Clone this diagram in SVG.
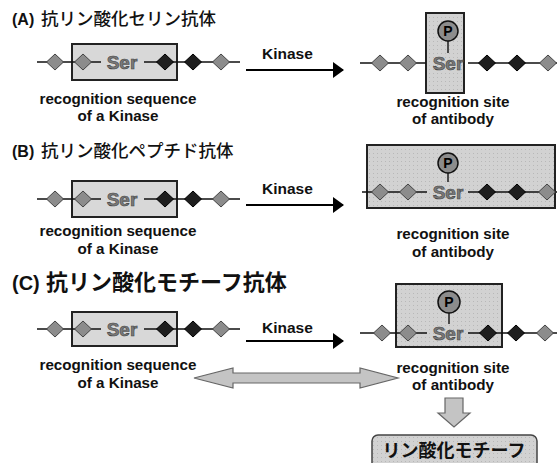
<svg xmlns="http://www.w3.org/2000/svg" xmlns:xlink="http://www.w3.org/1999/xlink" width="557" height="463" viewBox="0 0 557 463">
<style>
.t{font-family:"Liberation Sans",Arial,sans-serif;font-weight:bold;fill:#111}
.jp{font-family:"Noto Sans CJK JP","Noto Sans CJK SC",sans-serif;fill:#111}
.lab{font-family:"Liberation Sans",Arial,sans-serif;font-weight:bold;font-size:15.2px;fill:#111;text-anchor:middle}
.kin{font-family:"Liberation Sans",Arial,sans-serif;font-weight:bold;font-size:15.5px;fill:#111}
.ser{font-family:"Liberation Sans",Arial,sans-serif;font-weight:bold;font-size:19px;fill:#7a7a7a;stroke:#444;stroke-width:0.6;text-anchor:middle}
.pt{font-family:"Liberation Sans",Arial,sans-serif;font-weight:bold;font-size:14px;fill:#000;text-anchor:middle}
.boxL{fill:#d8d8d8;stroke:#222;stroke-width:2}
.boxR{fill:url(#dots);stroke:#222;stroke-width:2}
.ln{stroke:#111;stroke-width:1.4;fill:none}
.pc{fill:#8c8c8c;stroke:#111;stroke-width:1.5}
.ka{stroke:#000;stroke-width:2.2;fill:none}
.fat{fill:#c4c4c4;stroke:#666;stroke-width:1.2}
</style>
<defs>
<pattern id="dots" width="4" height="4" patternUnits="userSpaceOnUse">
<rect width="4" height="4" fill="#d2d2d2"/>
<rect x="1" y="1" width="1" height="1" fill="#b8b8b8"/>
</pattern>
<path id="dg" d="M0,-8 L8.5,0 L0,8 L-8.5,0 Z" fill="#8c8c8c" stroke="#444" stroke-width="1"/>
<path id="dd" d="M0,-8 L8.5,0 L0,8 L-8.5,0 Z" fill="#1e1e1e" stroke="#000" stroke-width="1"/>
<marker id="ah" markerWidth="11" markerHeight="16" refX="10" refY="8" orient="auto" markerUnits="userSpaceOnUse">
<path d="M0,0 L11,8 L0,16 Z" fill="#000"/>
</marker>
</defs>
<rect width="557" height="463" fill="#fff"/>

<!-- Titles -->
<g id="titleA"><text x="12" y="25"><tspan class="t" font-size="16">(A)</tspan><tspan class="jp" x="41" font-size="17.5" font-weight="500">抗リン酸化セリン抗体</tspan></text></g>
<g id="titleB"><text x="12" y="157"><tspan class="t" font-size="16">(B)</tspan><tspan class="jp" x="41" font-size="17.5" font-weight="500">抗リン酸化ペプチド抗体</tspan></text></g>
<g id="titleC"><text x="12" y="290"><tspan class="t" font-size="20">(C)</tspan><tspan class="jp" x="46" font-size="22" font-weight="bold">抗リン酸化モチーフ抗体</tspan></text></g>

<!-- A left -->
<g id="A_left">
<rect class="boxL" x="72" y="44" width="105" height="36"/>
<path class="ln" d="M37,62 H101 M144,62 H240"/>
<use xlink:href="#dg" x="55" y="62"/><use xlink:href="#dg" x="83" y="62"/>
<use xlink:href="#dd" x="165" y="62"/><use xlink:href="#dd" x="193" y="62"/>
<use xlink:href="#dg" x="221" y="62"/>
<text class="ser" x="122" y="69">Ser</text>
<text class="lab" x="118" y="104">recognition sequence</text>
<text class="lab" x="118" y="121">of a Kinase</text>
</g>

<!-- A right -->
<g id="A_right">
<rect class="boxR" x="426" y="13" width="38" height="80"/>
<path class="ln" d="M360,63 H426 M468,63 H557"/>
<use xlink:href="#dg" x="380" y="63"/><use xlink:href="#dg" x="408" y="63"/>
<use xlink:href="#dd" x="487" y="63"/><use xlink:href="#dd" x="517" y="63"/>
<use xlink:href="#dg" x="548" y="63"/>
<line class="ln" x1="448" y1="41" x2="448" y2="53"/>
<circle class="pc" cx="448" cy="31" r="10"/>
<text class="pt" x="448" y="36">P</text>
<text class="ser" x="448" y="70">Ser</text>
<text class="lab" x="453" y="107">recognition site</text>
<text class="lab" x="453" y="124">of antibody</text>
</g>

<!-- B left -->
<g id="B_left">
<rect class="boxL" x="72" y="181" width="105" height="36"/>
<path class="ln" d="M37,199 H101 M144,199 H240"/>
<use xlink:href="#dg" x="55" y="199"/><use xlink:href="#dg" x="83" y="199"/>
<use xlink:href="#dd" x="165" y="199"/><use xlink:href="#dd" x="193" y="199"/>
<use xlink:href="#dg" x="221" y="199"/>
<text class="ser" x="122" y="206">Ser</text>
<text class="lab" x="118" y="236">recognition sequence</text>
<text class="lab" x="118" y="254">of a Kinase</text>
</g>

<!-- B right -->
<g id="B_right">
<rect class="boxR" x="367" y="145" width="188" height="63"/>
<path class="ln" d="M362,192 H427 M468,192 H557"/>
<use xlink:href="#dg" x="380" y="192"/><use xlink:href="#dg" x="408" y="192"/>
<use xlink:href="#dd" x="487" y="192"/><use xlink:href="#dd" x="517" y="192"/>
<use xlink:href="#dg" x="547" y="192"/>
<line class="ln" x1="448" y1="173" x2="448" y2="182"/>
<circle class="pc" cx="448" cy="163" r="10"/>
<text class="pt" x="448" y="168">P</text>
<text class="ser" x="448" y="199">Ser</text>
<text class="lab" x="453" y="239">recognition site</text>
<text class="lab" x="453" y="257">of antibody</text>
</g>

<!-- C left -->
<g id="C_left">
<rect class="boxL" x="72" y="312" width="105" height="34"/>
<path class="ln" d="M37,329 H101 M144,329 H240"/>
<use xlink:href="#dg" x="55" y="329"/><use xlink:href="#dg" x="83" y="329"/>
<use xlink:href="#dd" x="165" y="329"/><use xlink:href="#dd" x="193" y="329"/>
<use xlink:href="#dg" x="221" y="329"/>
<text class="ser" x="122" y="336">Ser</text>
<text class="lab" x="118" y="370">recognition sequence</text>
<text class="lab" x="118" y="388">of a Kinase</text>
</g>

<!-- C right -->
<g id="C_right">
<rect class="boxR" x="396" y="284" width="106" height="63"/>
<path class="ln" d="M360,333 H427 M468,333 H557"/>
<use xlink:href="#dg" x="382" y="333"/><use xlink:href="#dg" x="408" y="333"/>
<use xlink:href="#dd" x="488" y="333"/><use xlink:href="#dd" x="516" y="333"/>
<use xlink:href="#dg" x="545" y="333"/>
<line class="ln" x1="449" y1="313" x2="449" y2="324"/>
<circle class="pc" cx="449" cy="302" r="11"/>
<text class="pt" x="449" y="307">P</text>
<text class="ser" x="448" y="340">Ser</text>
<text class="lab" x="453" y="373">recognition site</text>
<text class="lab" x="453" y="390">of antibody</text>
</g>

<!-- Motif box -->
<g id="motif">
<rect x="372" y="435" width="165" height="40" rx="6" fill="url(#dots)" stroke="#444" stroke-width="1.5"/>
<text class="jp" x="454" y="457" font-size="18" font-weight="bold" text-anchor="middle" fill="#222">リン酸化モチーフ</text>
</g>

<!-- Connectors -->
<g id="connectors">
<g id="kinaseA">
<line class="ka" x1="246" y1="70" x2="343" y2="70" marker-end="url(#ah)"/>
<text class="kin" x="262" y="59">Kinase</text>
</g>
<g id="kinaseB">
<line class="ka" x1="246" y1="205" x2="343" y2="205" marker-end="url(#ah)"/>
<text class="kin" x="262" y="194">Kinase</text>
</g>
<g id="kinaseC">
<line class="ka" x1="246" y1="341" x2="343" y2="341" marker-end="url(#ah)"/>
<text class="kin" x="262" y="333">Kinase</text>
</g>
<path id="dblarrow" class="fat" d="M194,378 L233,368 L233,373 L360,373 L360,368 L398,378 L360,388 L360,383 L233,383 L233,388 Z"/>
<path id="downarrow" class="fat" d="M445,398 H463 V413 H470 L454,427 L438,413 H445 Z"/>
</g>
</svg>
